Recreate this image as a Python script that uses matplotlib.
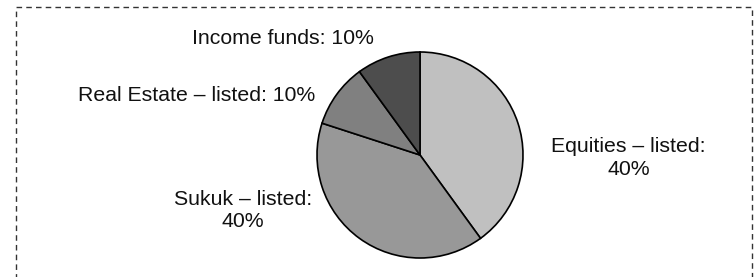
import matplotlib.pyplot as plt
from matplotlib.patches import Rectangle

# portfolio allocation
categories = ["Equities – listed:\n40%", "Sukuk – listed:\n40%",
              "Real Estate – listed: 10%", "Income funds: 10%"]
shares = [40, 40, 10, 10]
colors = ["#c0c0c0", "#989898", "#808080", "#4d4d4d"]

# label centres, in pie-radius units
label_pos = [(2.024, -0.03), (-1.718, -0.539), (-2.17, 0.573), (-1.33, 1.131)]

plt.rcParams["font.family"] = ["Liberation Sans", "DejaVu Sans"]

W, H = 756, 277
cx, cy, r = 420, 122, 103  # pie centre / radius in pixels (from bottom)

fig = plt.figure(figsize=(W / 100, H / 100), dpi=100)
ax = fig.add_axes([0, 0, 1, 1])

wedges, texts = ax.pie(
    shares,
    labels=categories,
    colors=colors,
    startangle=90,
    counterclock=False,
    wedgeprops={"edgecolor": "black", "linewidth": 1.2},
    textprops={"fontsize": 15.3, "color": "#111111"},
)
for t, (x, y) in zip(texts, label_pos):
    t.set_position((x, y))
    t.set_ha("center")
    t.set_va("center")
    t.set_multialignment("center")
    t.set_linespacing(1.25)

ax.set_aspect("auto")
ax.set_xlim(-cx / r, (W - cx) / r)
ax.set_ylim(-cy / r, (H - cy) / r)
ax.axis("off")

# dashed frame around the figure
fig.patches.append(Rectangle((16 / W, -0.1), (752 - 16) / W, 1.1 - 7 / H,
                             transform=fig.transFigure, fill=False,
                             edgecolor="#333333", linewidth=1.0,
                             linestyle=(0, (4, 3))))

fig.savefig("out.png", dpi=100)
